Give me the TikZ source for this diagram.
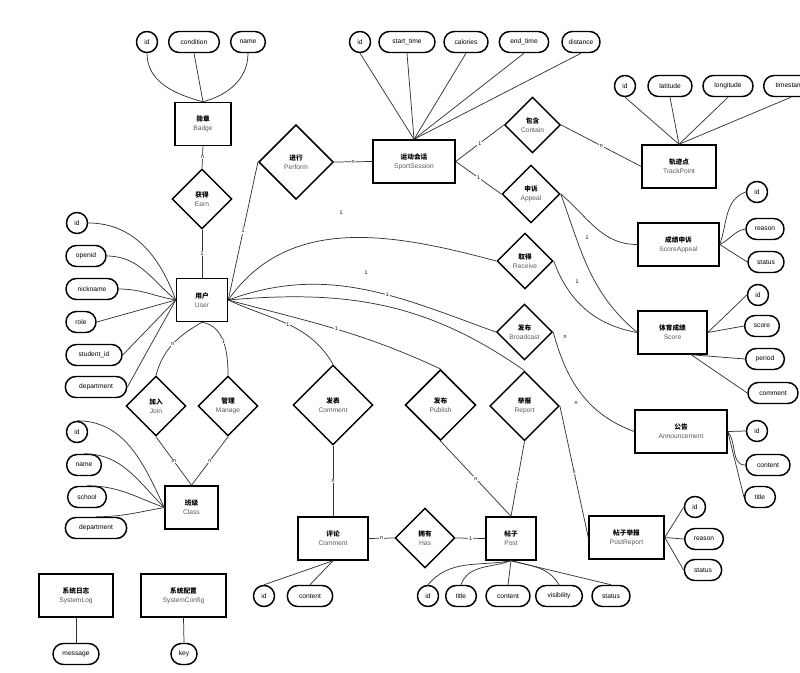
\documentclass[tikz,border=0pt]{standalone}
\usepackage{fontspec}
\setmainfont{Liberation Sans}
\newfontfamily\cjk{Noto Sans CJK SC}
\usetikzlibrary{shapes.geometric}
\newcommand{\zh}[1]{{\cjk\bfseries #1}}

\begin{document}
\begin{tikzpicture}[x=0.75pt,y=-0.75pt,
  every node/.style={font=\fontsize{5}{6.8}\selectfont},
  entity/.style={draw,line width=1.1pt,minimum height=32.25pt,align=center,inner sep=1pt},
  rel/.style={draw,diamond,aspect=1,line width=1.1pt,align=center,inner sep=0pt},
  attr/.style={draw,rounded corners=7.8pt,line width=1.1pt,minimum height=15.75pt,minimum width=15.75pt,inner sep=1pt},
  card/.style={font=\fontsize{4}{4}\selectfont,inner sep=0.6pt},
  cardw/.style={card,fill=white},
  link/.style={draw=black!80,line width=0.55pt}]
\useasboundingbox (0,0) rectangle (800,672);
\clip (0,0) rectangle (800,672);

% entities
\node[entity,minimum width=42pt] (badge) at (203,124) {\zh{勋章}\\{\color{black!65}Badge}};
\node[entity,minimum width=38.25pt] (user) at (202,300) {\zh{用户}\\{\color{black!65}User}};
\node[entity,minimum width=61.5pt] (ss) at (414,161.5) {\zh{运动会话}\\{\color{black!65}SportSession}};
\node[entity,minimum width=55.5pt] (tp) at (679,166.5) {\zh{轨迹点}\\{\color{black!65}TrackPoint}};
\node[entity,minimum width=60.75pt] (sa) at (678.5,244.5) {\zh{成绩申诉}\\{\color{black!65}ScoreAppeal}};
\node[entity,minimum width=51.75pt] (score) at (672.5,332.5) {\zh{体育成绩}\\{\color{black!65}Score}};
\node[entity,minimum width=69pt] (ann) at (681,431.5) {\zh{公告}\\{\color{black!65}Announcement}};
\node[entity,minimum width=39.75pt] (class) at (191.5,507.5) {\zh{班级}\\{\color{black!65}Class}};
\node[entity,minimum width=52.5pt] (comment) at (333,538.5) {\zh{评论}\\{\color{black!65}Comment}};
\node[entity,minimum width=37.5pt] (post) at (511,538.5) {\zh{帖子}\\{\color{black!65}Post}};
\node[entity,minimum width=56.25pt] (pr) at (626.5,537.5) {\zh{帖子举报}\\{\color{black!65}PostReport}};
\node[entity,minimum width=55.5pt] (slog) at (76,595.5) {\zh{系统日志}\\{\color{black!65}SystemLog}};
\node[entity,minimum width=63.75pt] (sconf) at (183.5,595.5) {\zh{系统配置}\\{\color{black!65}SystemConfig}};

% relationships
\node[rel,minimum size=45pt] (earn) at (202,199) {\zh{获得}\\{\color{black!65}Earn}};
\node[rel,minimum size=56pt] (perform) at (296,162) {\zh{进行}\\{\color{black!65}Perform}};
\node[rel,minimum size=42pt] (contain) at (532.5,125) {\zh{包含}\\{\color{black!65}Contain}};
\node[rel,minimum size=43.5pt] (appeal) at (531,194) {\zh{申诉}\\{\color{black!65}Appeal}};
\node[rel,minimum size=42pt] (receive) at (525,261) {\zh{取得}\\{\color{black!65}Receive}};
\node[rel,minimum size=42pt] (broadcast) at (524.5,332) {\zh{发布}\\{\color{black!65}Broadcast}};
\node[rel,minimum size=60pt] (crel) at (333,405) {\zh{发表}\\{\color{black!65}Comment}};
\node[rel,minimum size=53pt] (publish) at (440.5,405) {\zh{发布}\\{\color{black!65}Publish}};
\node[rel,minimum size=52pt] (report) at (524.5,406) {\zh{举报}\\{\color{black!65}Report}};
\node[rel,minimum size=45pt] (join) at (156,406) {\zh{加入}\\{\color{black!65}Join}};
\node[rel,minimum size=45pt] (manage) at (228,406) {\zh{管理}\\{\color{black!65}Manage}};
\node[rel,minimum size=45pt] (has) at (425,538) {\zh{拥有}\\{\color{black!65}Has}};

% attributes
\node[attr] (bid) at (147,42) {id};
\node[attr,minimum width=38pt] (bcond) at (194,42) {condition};
\node[attr,minimum width=26pt] (bname) at (248,42) {name};

\node[attr] (sid) at (360,42) {id};
\node[attr,minimum width=42pt] (sstart) at (407,42) {start\_time};
\node[attr,minimum width=33pt] (scal) at (466,42) {calories};
\node[attr,minimum width=37pt] (send) at (524,42) {end\_time};
\node[attr,minimum width=28.5pt] (sdist) at (581,42) {distance};

\node[attr] (tid) at (625,86) {id};
\node[attr,minimum width=33pt] (tlat) at (670,86) {latitude};
\node[attr,minimum width=37.5pt] (tlon) at (728,86) {longitude};
\node[attr,minimum width=41pt] (tts) at (791,86) {timestamp};

\node[attr] (said) at (757,192) {id};
\node[attr,minimum width=28.5pt] (sareason) at (765,229) {reason};
\node[attr,minimum width=27pt] (sastatus) at (766,262) {status};

\node[attr] (scid) at (758,295) {id};
\node[attr,minimum width=26pt] (scscore) at (762,326) {score};
\node[attr,minimum width=29pt] (scperiod) at (765,359) {period};
\node[attr,minimum width=37.5pt] (sccomment) at (773,393) {comment};

\node[attr] (anid) at (757,431) {id};
\node[attr,minimum width=33pt] (ancontent) at (768,465) {content};
\node[attr,minimum width=23pt] (antitle) at (760,497) {title};

\node[attr] (prid) at (695,507) {id};
\node[attr,minimum width=29pt] (prreason) at (704,539) {reason};
\node[attr,minimum width=28pt] (prstatus) at (703,570) {status};

\node[attr] (poid) at (428,596) {id};
\node[attr,minimum width=23pt] (potitle) at (461,596) {title};
\node[attr,minimum width=33pt] (pocontent) at (508,596) {content};
\node[attr,minimum width=35pt] (povis) at (559,596) {visibility};
\node[attr,minimum width=28.5pt] (postatus) at (611,596) {status};

\node[attr] (cmid) at (264,596) {id};
\node[attr,minimum width=34pt] (cmcontent) at (310,596) {content};

\node[attr] (uid) at (77,223) {id};
\node[attr,minimum width=30pt] (uopenid) at (86,256) {openid};
\node[attr,minimum width=39pt] (unick) at (92,289) {nickname};
\node[attr,minimum width=22.5pt] (urole) at (81,322) {role};
\node[attr,minimum width=42pt] (usid) at (94,355) {student\_id};
\node[attr,minimum width=46pt] (udept) at (96,387) {department};

\node[attr] (clid) at (77,432) {id};
\node[attr,minimum width=26pt] (clname) at (84,465) {name};
\node[attr,minimum width=29pt] (clschool) at (87,497) {school};
\node[attr,minimum width=46pt] (cldept) at (96,528) {department};

\node[attr,minimum width=34.5pt] (msg) at (76,654) {message};
\node[attr,minimum width=19.5pt] (key) at (184,654) {key};

% attribute links
\draw[link] (bid.south) to[out=-90,in=165] (badge.north);
\draw[link] (bcond.south) -- (badge.north);
\draw[link] (bname.south) to[out=-90,in=15] (badge.north);
\foreach \a in {sid,sstart,scal,send,sdist}
  \draw[link] (\a.south) -- (ss.north);
\foreach \a in {tid,tlat,tlon,tts}
  \draw[link] (\a.south) -- (tp.north);
\draw[link] (sa.east) to[out=70,in=200] (said.west);
\draw[link] (sa.east) to[out=25,in=190] (sareason.west);
\draw[link] (sa.east) -- (sastatus.west);
\draw[link] (score.east) -- (scid.west);
\draw[link] (score.east) -- (scscore.west);
\draw[link] (score.-50) -- (scperiod.west);
\draw[link] (score.-50) -- (sccomment.west);
\draw[link] (ann.east) -- (anid.west);
\draw[link] (ann.east) to[out=-50,in=180] (ancontent.west);
\draw[link] (ann.east) -- (antitle.west);
\foreach \a in {prid,prreason,prstatus}
  \draw[link] (pr.east) -- (\a.west);
\draw[link] (post.south) to[out=190,in=50] (poid.north);
\draw[link] (post.south) to[out=200,in=70] (potitle.north);
\draw[link] (post.south) -- (pocontent.north);
\draw[link] (post.south) to[out=-15,in=120] (povis.north);
\draw[link] (post.south) -- (postatus.north);
\draw[link] (comment.south) -- (cmid.north);
\draw[link] (comment.south) -- (cmcontent.north);
\draw[link] (uid.east) to[out=0,in=110] (user.west);
\draw[link] (uopenid.east) to[out=0,in=140] (user.west);
\draw[link] (unick.east) to[out=0,in=170] (user.west);
\draw[link] (urole.east) -- (user.west);
\draw[link] (usid.east) -- (user.west);
\draw[link] (udept.east) -- (user.west);
\draw[link] (clid.north) to[out=0,in=115] (class.west);
\draw[link] (clname.north) to[out=0,in=135] (class.west);
\draw[link] (clschool.north) to[out=0,in=160] (class.west);
\draw[link] (cldept.north) to[out=0,in=190] (class.west);
\draw[link] (slog.south) -- (msg.north);
\draw[link] (sconf.south) -- (key.north);

% relationship links
\draw[link] (badge.south) -- node[cardw] {n} (earn.north);
\draw[link] (earn.south) -- node[cardw] {1} (user.north);
\draw[link] (user.east) -- node[cardw] {1} (perform.west);
\draw[link] (perform.east) -- node[cardw] {n} (ss.west);
\draw[link] (ss.east) -- node[cardw] {1} (contain.west);
\draw[link] (contain.east) -- node[cardw] {n} (tp.west);
\draw[link] (ss.east) -- node[cardw] {1} (appeal.west);
\draw[link] (appeal.east) to[out=-40,in=180] (sa.west);
\draw[link] (appeal.east) to[out=-70,in=140] (score.west);
\draw[link] (receive.east) to[out=-70,in=170] (score.west);
\draw[link] (user.east) to[out=55,in=165] (receive.west);
\draw[link] (user.east) to[out=20,in=160] node[cardw,pos=0.6] {1} (broadcast.west);
\draw[link] (user.east) to[out=5,in=145] (report.north);
\draw[link] (user.east) to[out=-15,in=155] node[cardw] {1} (publish.north);
\draw[link] (user.east) to[out=-25,in=120] node[cardw] {1} (crel.north);
\draw[link] (broadcast.east) to[out=-75,in=160] (ann.west);
\draw[link] (report.east) -- node[cardw] {n} (pr.west);
\draw[link] (publish.south) -- node[cardw] {n} (post.north);
\draw[link] (report.south) -- node[cardw] {1} (post.north);
\draw[link] (crel.south) -- node[cardw] {n} (comment.north);
\draw[link] (comment.east) -- node[cardw] {n} (has.west);
\draw[link] (has.east) -- node[cardw] {1} (post.west);
\draw[link] (user.south) to[out=210,in=75] node[cardw] {n} (join.north);
\draw[link] (user.south) to[out=-10,in=90] node[cardw] {1} (manage.north);
\draw[link] (join.south) -- node[cardw] {m} (class.north);
\draw[link] (manage.south) -- node[cardw] {n} (class.north);

% loose labels
\node[card] (lrecv) at (341,213) {1};
\node[card] (lrept) at (366,273) {1};
\node[card] (lsa) at (587,238) {1};
\node[card] (lsc) at (577,282) {1};
\node[card] (lann) at (565,337) {n};
\node[card] (lann2) at (576,403) {n};
\end{tikzpicture}
\end{document}
